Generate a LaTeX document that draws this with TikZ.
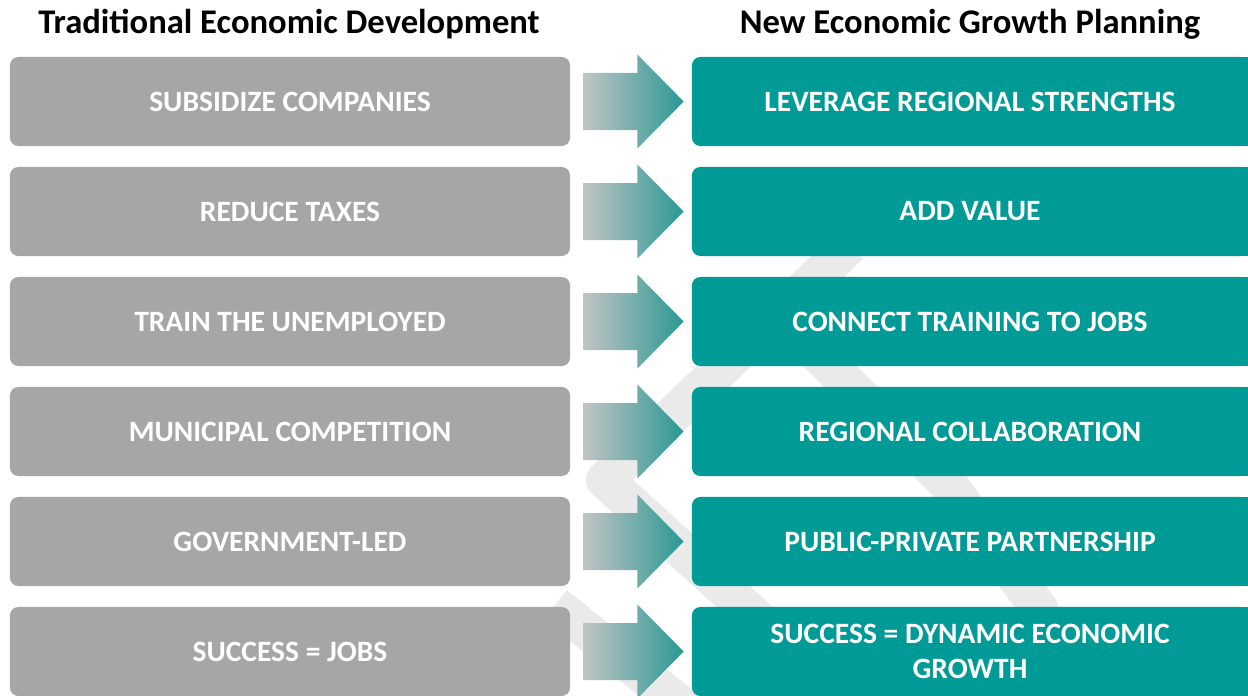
\documentclass[tikz,border=0pt]{standalone}
\usepackage{fontspec}
\setmainfont{Carlito}
\usetikzlibrary{calc}
\definecolor{oldgray}{HTML}{A6A6A6}
\definecolor{newteal}{HTML}{009A97}
\definecolor{arrowgray}{HTML}{C2C4C5}
\definecolor{arrowteal}{HTML}{2A9893}
\definecolor{markgray}{HTML}{EAEAEA}
\tikzset{heading/.style={font=\fontsize{24.6}{29}\selectfont\bfseries, text=black},
  oldbox/.style={fill=oldgray, rounded corners=6pt, minimum width=14cm, minimum height=2.225cm,
    font=\fontsize{21}{25}\selectfont\bfseries, text=white, align=center},
  newbox/.style={oldbox, fill=newteal, minimum width=13.9cm},
  bigarrow/.style={left color=arrowgray, right color=arrowteal},
  logoband/.style={markgray, line width=27pt, line join=round}}

\begin{document}
\begin{tikzpicture}[x=0.025cm, y=-0.025cm]
  \useasboundingbox (0,0) rectangle (1248,696);
  \clip (0,0) rectangle (1248,696);
  % faint logo behind the rows
  \draw[logoband] (850,245) -- (605,480) -- (770,630);
  \draw[logoband, line cap=round] (790,326) -- (950,486) -- (1040,610);
  \draw[logoband] (555,605) -- (700,720);

  \node[heading] (oldhead) at (289,24) {Traditional Economic Development};
  \node[heading] (newhead) at (970,24) {New Economic Growth Planning};

  \foreach \i/\old/\new in {1/SUBSIDIZE COMPANIES/LEVERAGE REGIONAL STRENGTHS,
      2/REDUCE TAXES/ADD VALUE,
      3/TRAIN THE UNEMPLOYED/CONNECT TRAINING TO JOBS,
      4/MUNICIPAL COMPETITION/REGIONAL COLLABORATION,
      5/GOVERNMENT-LED/PUBLIC-PRIVATE PARTNERSHIP,
      6/SUCCESS = JOBS/{SUCCESS = DYNAMIC ECONOMIC\\GROWTH}} {
    \node[oldbox] (old\i) at (290,{101.5+110*(\i-1)}) {\old};
    \node[newbox] (new\i) at (970,{101.5+110*(\i-1)}) {\new};
    \fill[newteal] ($(new\i.north east)+(-12,0)$) rectangle (new\i.south east);
    \path[bigarrow] ($(old\i.east)+(13,-28.5)$) -- ($(old\i.east)+(67,-28.5)$)
      -- ($(old\i.east)+(67,-47)$) -- ($(new\i.west)+(-8,0)$) -- ($(old\i.east)+(67,47)$)
      -- ($(old\i.east)+(67,28.5)$) -- ($(old\i.east)+(13,28.5)$) -- cycle;
  }
\end{tikzpicture}
\end{document}
